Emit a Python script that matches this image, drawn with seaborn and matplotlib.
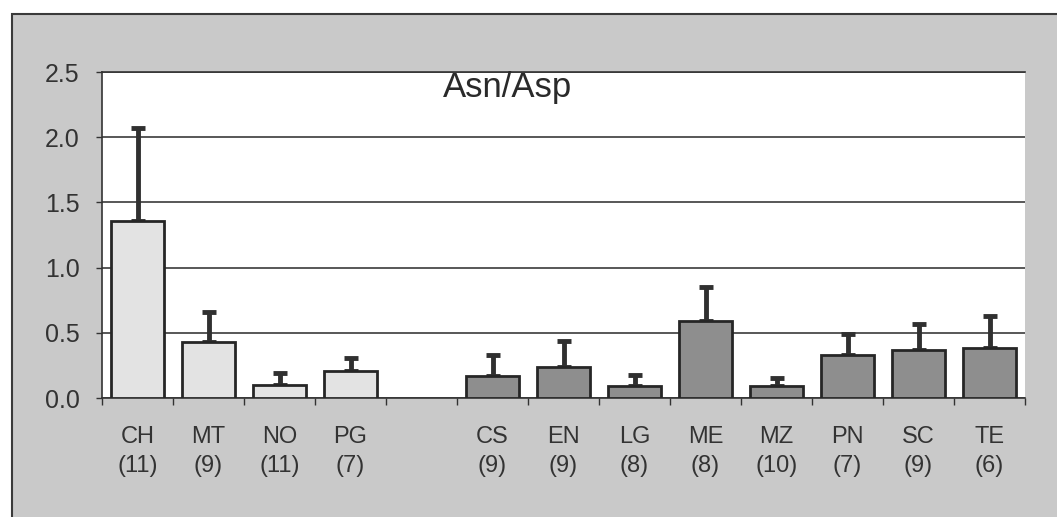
import numpy as np
import pandas as pd
import matplotlib
matplotlib.use("Agg")
import matplotlib.pyplot as plt
import seaborn as sns
from matplotlib.patches import Rectangle
from matplotlib.ticker import FixedLocator, FormatStrFormatter

# values (mean and upper SD whisker)
sites = ["CH", "MT", "NO", "PG", "CS", "EN", "LG", "ME", "MZ", "PN", "SC", "TE"]
counts = [11, 9, 11, 7, 9, 9, 8, 8, 10, 7, 9, 6]
means = [1.36, 0.43, 0.10, 0.21, 0.17, 0.24, 0.09, 0.59, 0.09, 0.33, 0.37, 0.38]
sds = [0.71, 0.23, 0.09, 0.10, 0.16, 0.20, 0.09, 0.26, 0.06, 0.16, 0.20, 0.25]
groups = ["a"] * 4 + ["b"] * 8

order = sites[:4] + [""] + sites[4:]
tick_labels = [f"{s}\n({n})" for s, n in zip(sites[:4], counts[:4])] + [""] + \
              [f"{s}\n({n})" for s, n in zip(sites[4:], counts[4:])]

df = pd.DataFrame({"site": sites, "mean": means, "sd": sds, "group": groups})

sns.set_style("white")
plt.rcParams["font.family"] = ["Liberation Sans", "DejaVu Sans"]

text_c = "#333333"
bg_c = "#c9c9c9"

fig = plt.figure(figsize=(10.57, 5.17), dpi=100)
fig.patch.set_facecolor("white")
# grey chart-area frame of the scan
fig.patches.append(Rectangle((12 / 1057, -0.2), 1.2, 0.2 + 1 - 14 / 517,
                             transform=fig.transFigure, facecolor=bg_c,
                             edgecolor="#3a3a3a", linewidth=1.5, zorder=-5))

ax = fig.add_axes([102 / 1057, 1 - 398 / 517, 923 / 1057, 326 / 517])
ax.set_zorder(2)
ax.set_facecolor("white")

sns.barplot(ax=ax, data=df, x="site", y="mean", hue="group", order=order,
            palette={"a": "#e3e3e3", "b": "#8e8e8e"}, dodge=False, width=0.74,
            edgecolor="#262626", linewidth=2, legend=False, zorder=3)

xpos = [order.index(s) for s in sites]
ax.errorbar(xpos, means, yerr=[np.zeros(len(sds)), sds], fmt="none",
            ecolor="#303030", elinewidth=3.5, capsize=5, capthick=3.5, zorder=2)

ax.set_ylim(0, 2.5)
ax.set_xlim(-0.5, len(order) - 0.5)
ax.set_yticks(np.arange(0, 2.51, 0.5))
ax.yaxis.set_major_formatter(FormatStrFormatter("%.1f"))
ax.yaxis.grid(True, color="#2a2a2a", linewidth=1.1)
ax.set_axisbelow(True)

ax.set_xticks(range(len(order)))
ax.set_xticklabels(tick_labels, linespacing=1.45)
ax.xaxis.set_minor_locator(FixedLocator(np.arange(-0.5, len(order), 1)))
ax.tick_params(axis="x", which="major", length=0, pad=20, labelsize=17, labelcolor=text_c)
ax.tick_params(axis="x", which="minor", length=5, width=1, color="#333333", direction="out")
ax.tick_params(axis="y", length=4, width=1, color="#333333", direction="out", pad=12,
               labelsize=18, labelcolor=text_c)
ax.tick_params(bottom=True, left=True, which="both")

ax.set_xlabel("")
ax.set_ylabel("")
for side in ["left", "bottom", "top"]:
    ax.spines[side].set_color("#333333")
    ax.spines[side].set_linewidth(1.2)
ax.spines["right"].set_visible(False)

ax.text(0.439, 0.924, "Asn/Asp", transform=ax.transAxes, ha="center",
        va="baseline", fontsize=25, color="#2a2a2a")

plt.savefig("out.png", dpi=100, facecolor=fig.get_facecolor())
plt.close()
